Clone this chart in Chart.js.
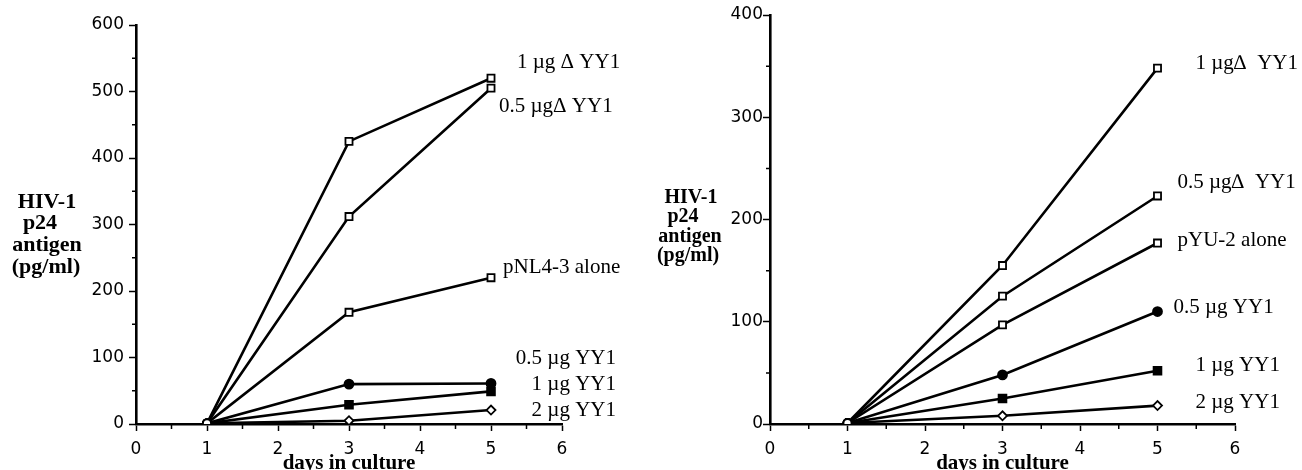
<!DOCTYPE html>
<html>
<head>
<meta charset="utf-8">
<script src="https://cdn.jsdelivr.net/npm/chart.js@4.4.1/dist/chart.umd.min.js"></script>
<style>
  body { margin: 0; background: #fff; width: 1302px; height: 470px; overflow: hidden; position: relative; }
  .panel { position: absolute; top: 0; height: 470px; width: 651px; }
</style>
</head>
<body>
<div class="panel" style="left:0"><canvas id="left"></canvas></div>
<div class="panel" style="left:651px"><canvas id="right"></canvas></div>
<script>
// days sampled
const days = [1, 3, 5];
const xTicks = [0, 1, 2, 3, 4, 5, 6];

// left panel: pNL4-3 (pg/ml)
const nlTicks = [0, 100, 200, 300, 400, 500, 600];
const nlNames = ["1 µg Δ YY1", "0.5 µgΔ YY1", "pNL4-3 alone", "0.5 µg YY1", "1 µg YY1", "2 µg YY1"];
const nlDelta1 = [1, 425, 520];
const nlDelta05 = [1, 312, 505];
const nlAlone = [1, 168, 220];
const nlYY05 = [1, 60, 61];
const nlYY1 = [1, 29, 49];
const nlYY2 = [1, 5, 21];

// right panel: pYU-2 (pg/ml)
const yuTicks = [0, 100, 200, 300, 400];
const yuNames = ["1 µg∆  YY1", "0.5 µg∆  YY1", "pYU-2 alone", "0.5 µg YY1", "1 µg YY1", "2 µg YY1"];
const yuDelta1 = [1, 155, 348];
const yuDelta05 = [1, 125, 223];
const yuAlone = [1, 97, 177];
const yuYY05 = [1, 48, 110];
const yuYY1 = [1, 25, 52];
const yuYY2 = [1, 8, 18];

const serif = "'Liberation Serif', 'Times New Roman', serif";
const sans = "'DejaVu Sans', sans-serif";

// marker per series: [style, filled, radius]
const markers = [
  ["rect", false, 5], ["rect", false, 5], ["rect", false, 5],
  ["circle", true, 4.5], ["rect", true, 5.5], ["rectRot", false, 4.5]
];

function makeSets(names, series) {
  return series.map((vals, i) => {
    const [style, filled, r] = markers[i];
    return {
      label: names[i],
      data: days.map((d, j) => ({ x: d, y: vals[j] })),
      borderColor: "#000",
      borderWidth: 2.6,
      tension: 0,
      pointStyle: c => c.dataIndex === 0 ? "circle" : style,
      pointRadius: c => c.dataIndex === 0 ? 4 : r,
      pointBackgroundColor: c => (filled && c.dataIndex > 0) ? "#000" : "#fff",
      pointBorderColor: "#000",
      pointBorderWidth: 1.8
    };
  });
}

// minor ticks at half steps, drawn through the scales
const minorTicks = {
  id: "minorTicks",
  afterDraw(chart, args, opts) {
    const { ctx, scales: { x, y } } = chart;
    ctx.save();
    ctx.strokeStyle = "#000";
    ctx.lineWidth = 1.5;
    ctx.beginPath();
    for (let v = 0.5; v < x.max; v += 1) {
      const px = x.getPixelForValue(v);
      ctx.moveTo(px, x.top); ctx.lineTo(px, x.top + 5);
    }
    for (let v = opts.half; v < y.max; v += opts.half * 2) {
      const py = y.getPixelForValue(v);
      ctx.moveTo(y.right, py); ctx.lineTo(y.right - 4, py);
    }
    ctx.stroke();
    ctx.restore();
  }
};

// text labels next to the lines, and the stacked y title
const annotate = {
  id: "annotate",
  afterDraw(chart, args, opts) {
    const { ctx, scales: { x, y } } = chart;
    ctx.save();
    ctx.fillStyle = "#000";
    ctx.textBaseline = "middle";
    ctx.font = "21px " + serif;
    const x5 = x.getPixelForValue(5);
    chart.data.datasets.forEach((ds, i) => {
      const it = opts.labels[i];
      ctx.textAlign = it.align || "left";
      ctx.fillText(ds.label, x5 + it.dx, y.getPixelForValue(it.v));
    });
    ctx.font = "bold " + opts.titleSize + "px " + serif;
    ctx.textAlign = "center";
    opts.title.forEach(t => ctx.fillText(t[0], t[1], t[2]));
    ctx.restore();
  }
};

function makeChart(id, names, series, yTicks, cfg) {
  const yMax = yTicks[yTicks.length - 1];
  return new Chart(document.getElementById(id), {
    type: "line",
    data: { datasets: makeSets(names, series) },
    plugins: [minorTicks, annotate],
    options: {
      responsive: true,
      maintainAspectRatio: false,
      animation: false,
      layout: { padding: { left: 0, top: cfg.top, right: cfg.right, bottom: 0 } },
      plugins: {
        legend: { display: false },
        tooltip: { enabled: false },
        minorTicks: { half: 50 },
        annotate: { labels: cfg.labels, title: cfg.title, titleSize: cfg.titleSize }
      },
      scales: {
        x: {
          type: "linear",
          min: xTicks[0],
          max: xTicks[xTicks.length - 1],
          afterBuildTicks: s => { s.ticks = xTicks.map(v => ({ value: v })); },
          afterFit: s => { s.height = 46; },
          border: { color: "#000", width: 2.6 },
          grid: { drawOnChartArea: false, tickLength: 7, tickWidth: 1.5, tickColor: "#000" },
          ticks: { color: "#000", padding: 8, font: { family: sans, size: 17 } },
          title: {
            display: true, text: "days in culture", color: "#000",
            padding: { top: 0, bottom: 0 },
            font: { family: serif, size: 21, weight: "bold", lineHeight: 0.6 }
          }
        },
        y: {
          min: 0,
          max: yMax,
          afterBuildTicks: s => { s.ticks = yTicks.map(v => ({ value: v })); },
          afterFit: s => { s.width = cfg.axisLeft; },
          border: { color: "#000", width: 2.6 },
          grid: { drawOnChartArea: false, tickLength: 7, tickWidth: 1.5, tickColor: "#000" },
          ticks: { color: "#000", padding: cfg.tickPad, font: { family: sans, size: 17 } }
        }
      }
    }
  });
}

makeChart("left", nlNames, [nlDelta1, nlDelta05, nlAlone, nlYY05, nlYY1, nlYY2], nlTicks, {
  top: 25, right: 89, axisLeft: 136, tickPad: 5, titleSize: 22,
  labels: [
    { v: 543, dx: 26 }, { v: 477, dx: 8 }, { v: 236, dx: 12 },
    { v: 99, dx: 125, align: "right" }, { v: 60, dx: 125, align: "right" }, { v: 21, dx: 125, align: "right" }
  ],
  title: [["HIV-1", 47, 202], ["p24", 40, 223], ["antigen", 47, 245], ["(pg/ml)", 46, 267]]
});

makeChart("right", yuNames, [yuDelta1, yuDelta05, yuAlone, yuYY05, yuYY1, yuYY2], yuTicks, {
  top: 15, right: 67, axisLeft: 119, tickPad: 0, titleSize: 20,
  labels: [
    { v: 353, dx: 38 }, { v: 236, dx: 20 }, { v: 179, dx: 20 },
    { v: 114, dx: 16 }, { v: 57, dx: 38 }, { v: 21, dx: 38 }
  ],
  title: [["HIV-1", 40, 198], ["p24", 32, 217], ["antigen", 39, 237], ["(pg/ml)", 37, 256]]
});
</script>
</body>
</html>
